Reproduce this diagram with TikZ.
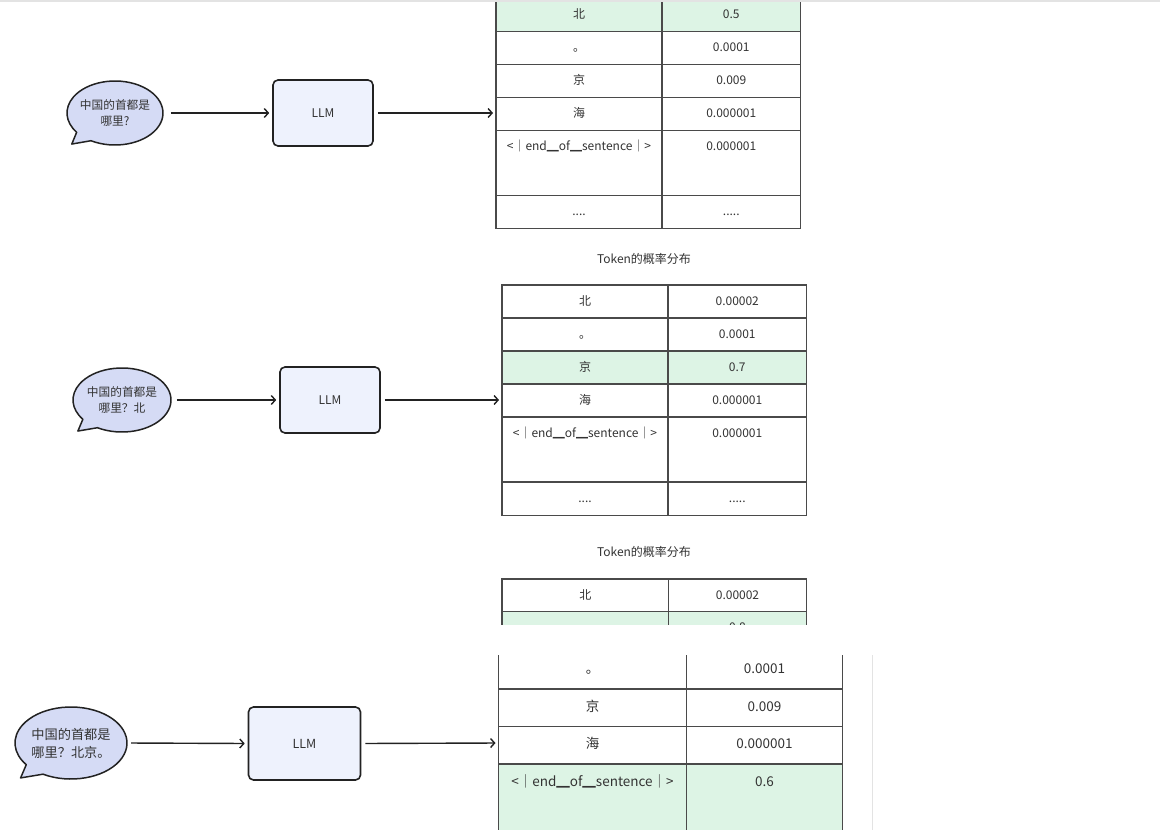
\documentclass[tikz,border=0pt]{standalone}
\usepackage{fontspec}
\setmainfont{Noto Sans CJK SC}
\usetikzlibrary{arrows.meta,shapes.geometric,calc}
\definecolor{bubblefill}{HTML}{D5DBF5}
\definecolor{boxfill}{HTML}{EEF2FD}
\definecolor{rowgreen}{HTML}{DDF4E5}
\definecolor{gridline}{HTML}{4A4A4A}
\definecolor{edgedark}{HTML}{222222}
\definecolor{shotline}{HTML}{E3E3E3}
\definecolor{textgray}{HTML}{333333}
\tikzset{
  bubbleline/.style={draw=edgedark, fill=bubblefill, line width=1.5pt, line join=round},
  bubbletext/.style={shape=ellipse, inner sep=0pt, align=center, text=textgray},
  llm/.style={draw=edgedark, fill=boxfill, line width=1.6pt, rounded corners=5pt, text=textgray},
  flow/.style={draw=edgedark, line width=1.4pt, -{Straight Barb[length=4pt,width=9pt]}},
  celltext/.style={inner sep=0pt, text=textgray, text height=8pt, text depth=2pt, font=\tabfont},
  caption/.style={inner sep=0pt, text=textgray, font=\fontsize{12}{14}\selectfont},
}
% #1 name, #2 cx, #3 cy (negative), #4 a, #5 b, #6 font, #7 text
\newcommand{\speech}[7]{%
  \draw[bubbleline] ($(#2,#3)+(217:#4 and #5)$) -- ($(#2,#3)+(-0.9*#4,-0.97*#5)$)
    -- ($(#2,#3)+(240:#4 and #5)$) arc[start angle=240,end angle=577,x radius=#4,y radius=#5] -- cycle;
  \node[bubbletext, minimum width=2*#4pt, minimum height=2*#5pt, font=#6] (#1) at (#2,#3) {#7};
}
\newcommand{\tabfont}{\fontsize{12}{14}\selectfont}
\def\tabxl{496}\def\tabxm{662}\def\tabxr{800}\def\taboff{16}
% #1 name, #2 top, #3 bottom, #4 left text, #5 right text, #6 fill
\newcommand{\trow}[6]{%
  \filldraw[fill=#6, draw=gridline, line width=1.1pt] (\tabxl,-#2) rectangle (\tabxm,-#3);
  \filldraw[fill=#6, draw=gridline, line width=1.1pt] (\tabxm,-#2) rectangle (\tabxr,-#3);
  \node[celltext] (#1l) at ({(\tabxl+\tabxm)/2},{-#2-\taboff}) {#4};
  \node[celltext] (#1r) at ({(\tabxm+\tabxr)/2},{-#2-\taboff}) {#5};
}
\begin{document}
\begin{tikzpicture}[x=1pt,y=1pt]
\useasboundingbox (0,0) rectangle (1160,-830);
\fill[white] (0,0) rectangle (1160,-830);
\draw[shotline, line width=1.2pt] (0,-1) -- (1160,-1);

% ---------- panel 1 ----------
\speech{q1}{115}{-113}{48}{32}{\fontsize{11.7}{16}\selectfont}{中国的首都是\\哪里?}
\node[llm, minimum width=100pt, minimum height=66pt] (m1) at (323,-113) {\fontsize{12}{14}\selectfont LLM};
\coordinate (in1) at (496,-113);
\draw[flow, shorten <=6pt, shorten >=3pt] (q1.east) -- (m1.west);
\draw[flow, shorten <=4pt, shorten >=3pt] (m1.east) -- (in1);
\begin{scope}
\clip (0,-2.5) rectangle (1160,-240);
\def\tabxl{496}\def\tabxm{662}\def\tabxr{800.5}\def\taboff{17}
\trow{a1}{-1.3}{31.7}{北}{0.5}{rowgreen}
\trow{a2}{31.7}{64.3}{。}{0.0001}{white}
\trow{a3}{64.3}{97.7}{京}{0.009}{white}
\trow{a4}{97.7}{130.7}{海}{0.000001}{white}
\trow{a5}{130.7}{195.7}{<｜end▁of▁sentence｜>}{0.000001}{white}
\trow{a6}{195.7}{228.5}{....}{.....}{white}
\end{scope}
\node[caption] (c1) at (644,-258.5) {Token的概率分布};

% ---------- panel 2 ----------
\speech{q2}{122}{-400}{49}{32}{\fontsize{11.7}{16}\selectfont}{中国的首都是\\哪里？北}
\node[llm, minimum width=100pt, minimum height=66pt] (m2) at (330,-400) {\fontsize{12}{14}\selectfont LLM};
\coordinate (in2) at (502,-400);
\draw[flow, shorten <=5pt, shorten >=3pt] (q2.east) -- (m2.west);
\draw[flow, shorten <=4pt, shorten >=3pt] (m2.east) -- (in2);
\def\tabxl{502}\def\tabxm{668}\def\tabxr{806.5}\def\taboff{17.2}
\trow{b1}{285}{318}{北}{0.00002}{white}
\trow{b2}{318}{351}{。}{0.0001}{white}
\trow{b3}{351}{384}{京}{0.7}{rowgreen}
\trow{b4}{384}{417}{海}{0.000001}{white}
\trow{b5}{417}{482}{<｜end▁of▁sentence｜>}{0.000001}{white}
\trow{b6}{482}{515.5}{....}{.....}{white}
\node[caption] (c2) at (644,-552) {Token的概率分布};

% ---------- panel 3 (cut) ----------
\begin{scope}
\clip (0,-560) rectangle (1160,-624);
\def\tabxl{502}\def\tabxm{668.5}\def\tabxr{806.5}\def\taboff{17.2}
\trow{d1}{579}{611.7}{北}{0.00002}{white}
\trow{d2}{611.7}{645}{}{0.8}{rowgreen}
\end{scope}

% ---------- panel 4 ----------
\speech{q4}{71}{-743}{56}{36}{\fontsize{13.2}{18}\selectfont}{中国的首都是\\哪里？北京。}
\node[llm, minimum width=112pt, minimum height=73pt] (m4) at (304.5,-743.5) {\fontsize{12.5}{14}\selectfont LLM};
\coordinate (in4) at (498.5,-743);
\draw[flow, shorten <=4pt, shorten >=3pt] (q4.east) -- (m4.west);
\draw[flow, shorten <=4pt, shorten >=3pt] (m4.east) -- (in4);
\begin{scope}
\clip (0,-655) rectangle (1160,-830);
\renewcommand{\tabfont}{\fontsize{13.5}{16}\selectfont}
\def\tabxl{498.5}\def\tabxm{686.5}\def\tabxr{842.5}\def\taboff{19}
\trow{e1}{651.5}{689}{。}{0.0001}{white}
\trow{e2}{689}{726.5}{京}{0.009}{white}
\trow{e3}{726.5}{764}{海}{0.000001}{white}
\trow{e4}{764}{845}{<｜end▁of▁sentence｜>}{0.6}{rowgreen}
\end{scope}
\draw[shotline, line width=1.2pt] (872.7,-655) -- (872.7,-830);
\end{tikzpicture}
\end{document}
